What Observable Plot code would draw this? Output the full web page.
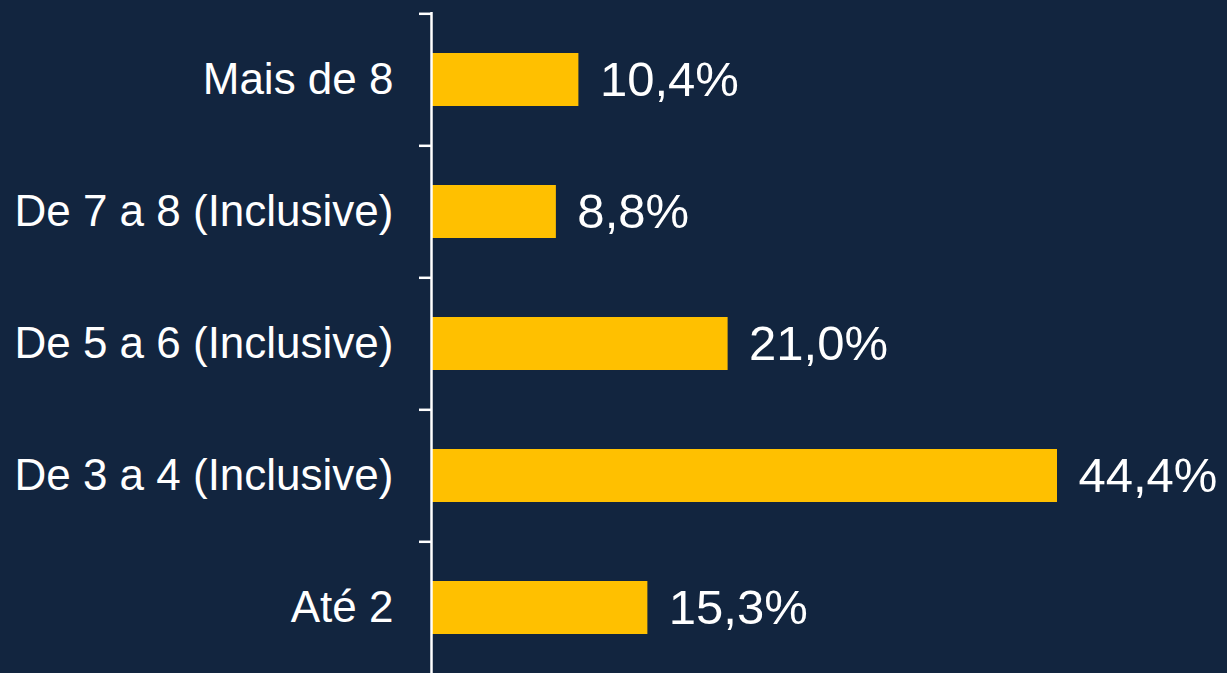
<!DOCTYPE html>
<html>
<head>
<meta charset="utf-8">
<script src="https://cdn.jsdelivr.net/npm/d3@7"></script>
<script src="https://cdn.jsdelivr.net/npm/@observablehq/plot@0.6"></script>
<style>
  html, body { margin: 0; padding: 0; background: #12253f; overflow: hidden; }
  #chart svg { display: block; }
</style>
</head>
<body>
<div id="chart"></div>
<script>
const categories = ["Mais de 8", "De 7 a 8 (Inclusive)", "De 5 a 6 (Inclusive)", "De 3 a 4 (Inclusive)", "Até 2"];
const values = [10.4, 8.8, 21.0, 44.4, 15.3];
const labels = ["10,4%", "8,8%", "21,0%", "44,4%", "15,3%"];

const data = categories.map((c, i) => ({category: c, value: values[i], label: labels[i]}));

const font = "'Liberation Sans', Arial, sans-serif";
const step = (674 - 12) / categories.length;

const chart = Plot.plot({
  width: 1227,
  height: 673,
  marginTop: 12,
  marginBottom: 0,
  marginLeft: 431,
  marginRight: 0,
  style: {background: "#12253f", color: "white", fontFamily: font},
  x: {domain: [0, 44.4], range: [432, 1057], axis: null},
  y: {domain: categories, range: [12, 674], paddingInner: 0.6, paddingOuter: 0.3, label: null},
  marks: [
    Plot.barX(data, {x: "value", y: "category", fill: "#ffc000"}),
    Plot.axisY({tickSize: 12, text: null, dy: -step / 2, stroke: "white", strokeWidth: 2.5, label: null}),
    Plot.axisY({tickSize: 0, tickPadding: 38, fontSize: 44, fill: "white", label: null, tickFormat: d => d}),
    Plot.ruleX([0], {dx: -1, stroke: "white", strokeWidth: 2.5}),
    Plot.text(data, {x: "value", y: "category", text: "label", textAnchor: "start", dx: 21, fontSize: 49, fill: "white", fontFamily: font})
  ]
});
document.getElementById("chart").appendChild(chart);
</script>
</body>
</html>
